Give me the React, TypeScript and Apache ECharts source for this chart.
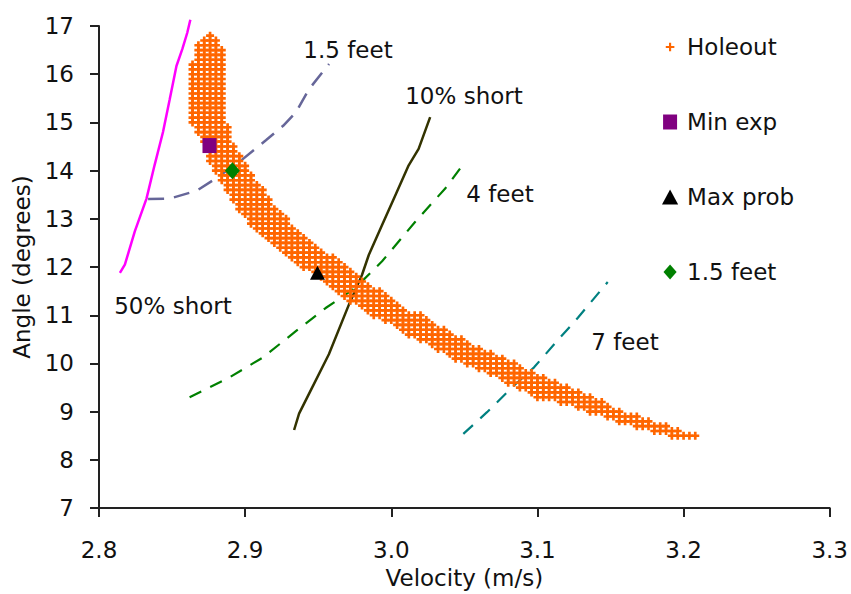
import React, { useEffect, useRef } from 'react';
import * as echarts from 'echarts';

// Axis ticks
const xMin = 2.8;
const xMax = 3.3;
const xStep = 0.1;
const yMin = 7;
const yMax = 17;
const yStep = 1;

// Holeout region: grid columns of velocity, each with highest and lowest angle row
const holeoutVStart = 2.864;
const holeoutVStep = 0.004;
const holeoutAStep = 0.1;
const holeoutTop = [
  16.2, 16.6, 16.7, 16.8, 16.7, 16.5, 14.9, 14.5, 14.3, 14.1, 13.9, 13.7, 13.6, 13.4, 13.2, 13.1,
  13.0, 12.8, 12.7, 12.6, 12.5, 12.4, 12.3, 12.2, 12.2, 12.1, 12.0, 11.9, 11.8, 11.7, 11.6, 11.5,
  11.5, 11.4, 11.3, 11.2, 11.1, 11.0, 11.0, 11.0, 10.9, 10.8, 10.7, 10.7, 10.6, 10.5, 10.5, 10.4,
  10.3, 10.3, 10.2, 10.2, 10.1, 10.1, 10.0, 10.0, 9.9, 9.8, 9.8, 9.7, 9.7, 9.6, 9.6, 9.5, 9.5, 9.4,
  9.4, 9.3, 9.3, 9.2, 9.2, 9.1, 9.0, 9.0, 8.9, 8.9, 8.9, 8.8, 8.8, 8.7, 8.7, 8.7, 8.6, 8.6, 8.5,
  8.5, 8.5,
];
const holeoutBottom = [
  15.0, 14.8, 14.6, 14.2, 14.0, 13.8, 13.6, 13.4, 13.2, 13.1, 12.9, 12.8, 12.7, 12.6, 12.5, 12.4,
  12.3, 12.2, 12.1, 12.0, 12.0, 11.9, 11.8, 11.7, 11.6, 11.5, 11.4, 11.3, 11.3, 11.2, 11.1, 11.0,
  11.0, 10.9, 10.9, 10.8, 10.7, 10.6, 10.6, 10.5, 10.5, 10.4, 10.3, 10.3, 10.2, 10.1, 10.1, 10.0,
  10.0, 9.9, 9.9, 9.8, 9.8, 9.7, 9.6, 9.6, 9.5, 9.5, 9.4, 9.3, 9.3, 9.3, 9.3, 9.2, 9.2, 9.2, 9.1,
  9.1, 9.0, 9.0, 9.0, 8.9, 8.9, 8.8, 8.8, 8.8, 8.7, 8.7, 8.7, 8.6, 8.6, 8.6, 8.5, 8.5, 8.5, 8.5,
  8.5,
];

// Optimal points
const minExp = [[2.8756, 14.52]];
const maxProb = [[2.9495, 11.88]];
const feet15Point = [[2.8913, 14.0]];

// Contour lines [velocity, angle]
const short50 = [
  [2.8143, 11.88], [2.8177, 12.05], [2.8245, 12.74], [2.8325, 13.42], [2.838, 14.11],
  [2.8438, 14.8], [2.8484, 15.48], [2.853, 16.17], [2.857, 16.52], [2.8604, 16.86], [2.8625, 17.13],
];
const feet15Line = [
  [2.8336, 13.41], [2.8484, 13.42], [2.8666, 13.58], [2.878, 13.8], [2.896, 14.18],
  [2.9142, 14.63], [2.926, 14.93], [2.9347, 15.21], [2.9437, 15.69], [2.9574, 16.21],
];
const short10 = [
  [2.9335, 8.62], [2.9369, 8.96], [2.946, 9.51], [2.9573, 10.19], [2.971, 11.22], [2.98, 11.84],
  [2.9846, 12.25], [2.9937, 12.87], [3.0028, 13.49], [3.0119, 14.11], [3.0187, 14.45], [3.0266, 15.11],
];
const feet4Line = [
  [2.862, 9.3], [2.8892, 9.71], [2.9119, 10.12], [2.9347, 10.67], [2.9551, 11.15], [2.9755, 11.57],
  [2.9937, 12.12], [3.0164, 12.94], [3.0369, 13.63], [3.0505, 14.18],
];
const feet7Line = [
  [3.0493, 8.54], [3.0655, 8.99], [3.0829, 9.51], [3.0977, 9.92], [3.1127, 10.44], [3.1277, 10.95],
  [3.1481, 11.69],
];

// Annotation labels
const lineLabels = ['1.5 feet', '10% short', '4 feet', '7 feet', '50% short'];
const legendNames = ['Holeout', 'Min exp', 'Max prob', '1.5 feet'];

const FONT = '"DejaVu Sans", Verdana, sans-serif';
const TXT = '#111111';

function buildHoleout() {
  const pts: number[][] = [];
  for (let i = 0; i < holeoutTop.length; i++) {
    const v = +(holeoutVStart + i * holeoutVStep).toFixed(4);
    const lo = Math.round(holeoutBottom[i] / holeoutAStep);
    const hi = Math.round(holeoutTop[i] / holeoutAStep);
    for (let k = lo; k <= hi; k++) {
      pts.push([v, +(k * holeoutAStep).toFixed(1)]);
    }
  }
  return pts;
}

const crossPath = 'path://M3,0H6V3H9V6H6V9H3V6H0V3H3Z';

export default function App() {
  const ref = useRef<HTMLDivElement>(null);
  useEffect(() => {
    if (!ref.current) return;
    const chart = echarts.init(ref.current, undefined, { renderer: 'svg' });
    const axisCommon = {
      type: 'value',
      nameLocation: 'middle',
      nameTextStyle: { fontSize: 23, color: TXT, fontFamily: FONT },
      axisLine: { show: true, lineStyle: { color: '#222', width: 2 } },
      axisTick: { show: true, inside: false, length: 9, lineStyle: { color: '#222', width: 2 } },
      splitLine: { show: false },
    };
    const lineSeries = (name: string, data: number[][], color: string, width: number, type: any) => ({
      name,
      type: 'line',
      data,
      showSymbol: false,
      symbol: 'none',
      clip: false,
      z: 2,
      lineStyle: { color, width, type, opacity: 1 },
      silent: true,
    });
    const option: any = {
      animation: false,
      backgroundColor: '#ffffff',
      textStyle: { fontFamily: FONT },
      grid: { left: 99, top: 26, width: 734, height: 485 },
      xAxis: {
        ...axisCommon,
        min: xMin,
        max: xMax,
        interval: xStep,
        name: 'Velocity (m/s)',
        nameGap: 53,
        axisLabel: {
          fontSize: 23,
          color: TXT,
          fontFamily: FONT,
          margin: 30,
          formatter: (v: number) => v.toFixed(1),
        },
      },
      yAxis: {
        ...axisCommon,
        min: yMin,
        max: yMax,
        interval: yStep,
        name: 'Angle (degrees)',
        nameGap: 58,
        nameRotate: 90,
        axisLabel: { fontSize: 23, color: TXT, fontFamily: FONT, margin: 25 },
      },
      legend: {
        orient: 'vertical',
        left: 657,
        top: 30,
        itemWidth: 24,
        itemHeight: 15,
        itemGap: 51,
        selectedMode: false,
        textStyle: { fontSize: 23, color: TXT, fontFamily: FONT, lineHeight: 24 },
        data: [
          { name: legendNames[0], icon: 'path://M0,0M14,14M3,6H11V8H3ZM6,3H8V11H6Z' },
          { name: legendNames[1], icon: 'path://M0,0H14V15H0Z' },
          { name: legendNames[2], icon: 'path://M7,0L14,13H0Z' },
          { name: legendNames[3], icon: 'path://M7,0L14,8L7,16L0,8Z' },
        ],
      },
      series: [
        lineSeries('50% short', short50, '#FF00FF', 2.5, 'solid'),
        lineSeries('1.5 feet contour', feet15Line, '#666699', 2.5, [16, 10]),
        lineSeries('10% short', short10, '#333300', 2.5, 'solid'),
        lineSeries('4 feet contour', feet4Line, '#008000', 2.2, [13, 10]),
        lineSeries('7 feet contour', feet7Line, '#008080', 2.2, [13, 10]),
        {
          name: legendNames[0],
          type: 'scatter',
          data: buildHoleout(),
          symbol: crossPath,
          symbolSize: 8,
          itemStyle: { color: '#FF6600', opacity: 1 },
          z: 3,
          silent: true,
        },
        {
          name: legendNames[1],
          type: 'scatter',
          data: minExp,
          symbol: 'rect',
          symbolSize: [14, 15],
          itemStyle: { color: '#800080', opacity: 1 },
          z: 4,
        },
        {
          name: legendNames[2],
          type: 'scatter',
          data: maxProb,
          symbol: 'triangle',
          symbolSize: [15, 14],
          itemStyle: { color: '#000000', opacity: 1 },
          z: 4,
        },
        {
          name: legendNames[3],
          type: 'scatter',
          data: feet15Point,
          symbol: 'diamond',
          symbolSize: [15, 17],
          itemStyle: { color: '#008000', opacity: 1 },
          z: 4,
        },
      ],
      graphic: [
        { x: 348, y: 50, text: lineLabels[0] },
        { x: 464, y: 96, text: lineLabels[1] },
        { x: 500, y: 194, text: lineLabels[2] },
        { x: 625, y: 342, text: lineLabels[3] },
        { x: 173, y: 306, text: lineLabels[4] },
      ].map((l) => ({
        type: 'text',
        x: l.x,
        y: l.y,
        z: 10,
        style: {
          text: l.text,
          fontSize: 23,
          fontFamily: FONT,
          fill: TXT,
          align: 'center',
          verticalAlign: 'middle',
        },
      })),
    };
    chart.setOption(option);
    return () => chart.dispose();
  }, []);
  return (
    <div
      ref={ref}
      style={{ position: 'fixed', left: 0, top: 0, width: 851, height: 594, background: '#fff' }}
    />
  );
}
